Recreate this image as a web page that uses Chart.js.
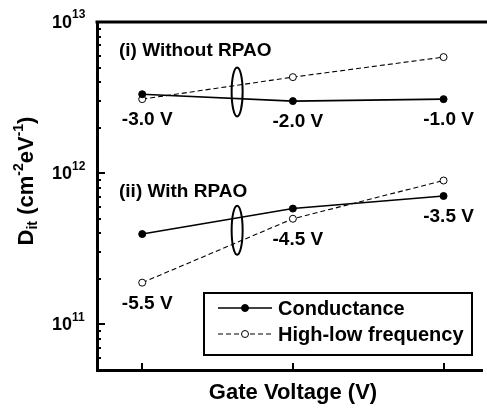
<!DOCTYPE html>
<html>
<head>
<meta charset="utf-8">
<script src="https://cdn.jsdelivr.net/npm/chart.js@4.4.0/dist/chart.umd.min.js"></script>
<style>
  body { margin: 0; background: #fff; }
  #wrap { width: 487px; height: 412px; }
</style>
</head>
<body>
<div id="wrap"><canvas id="ditChart" width="487" height="412"></canvas></div>
<script>
// gate voltage positions (category index along x)
const xPos = [1, 2, 3];

// (i) without RPAO
const condWithout = [3.33e12, 3.0e12, 3.09e12];
const hlfWithout = [3.09e12, 4.32e12, 5.86e12];
const labelsWithout = ['-3.0 V', '-2.0 V', '-1.0 V'];

// (ii) with RPAO
const condWith = [3.96e11, 5.84e11, 7.07e11];
const hlfWith = [1.89e11, 5.0e11, 8.95e11];
const labelsWith = ['-5.5 V', '-4.5 V', '-3.5 V'];

const yDecades = [11, 12, 13];

const FONT = '"Liberation Sans", Arial, sans-serif';

function pts(vals) {
    return xPos.map((x, i) => ({ x: x, y: vals[i] }));
}

const solid = {
    borderColor: '#000', backgroundColor: '#000', borderWidth: 1.6,
    pointRadius: 3.5, pointBorderWidth: 1, pointBackgroundColor: '#000', pointBorderColor: '#000'
};
const dashed = {
    borderColor: '#000', backgroundColor: '#fff', borderWidth: 1.1, borderDash: [5, 3],
    pointRadius: 3.5, pointBorderWidth: 1, pointBackgroundColor: '#fff', pointBorderColor: '#000'
};

const overlay = {
    id: 'overlay',
    afterDraw(chart) {
        const ctx = chart.ctx;
        const area = chart.chartArea;
        const xs = chart.scales.x;
        const ys = chart.scales.y;
        ctx.save();
        ctx.fillStyle = '#000';
        ctx.strokeStyle = '#000';

        // top frame line
        ctx.lineWidth = 3;
        ctx.beginPath();
        ctx.moveTo(area.left - 1.5, area.top);
        ctx.lineTo(chart.width, area.top);
        ctx.stroke();

        // y ticks, inward
        ctx.lineWidth = 2;
        for (let d = 10; d <= 13; d++) {
            for (let m = 1; m <= 9; m++) {
                const v = m * Math.pow(10, d);
                if (v < ys.min || v > ys.max) continue;
                const py = Math.round(ys.getPixelForValue(v));
                const len = m === 1 ? 8 : 4;
                ctx.beginPath();
                ctx.moveTo(area.left, py);
                ctx.lineTo(area.left + len, py);
                ctx.stroke();
            }
        }
        // x ticks, inward
        xPos.forEach(x => {
            const px = Math.round(xs.getPixelForValue(x));
            ctx.beginPath();
            ctx.moveTo(px, area.bottom);
            ctx.lineTo(px, area.bottom - 7);
            ctx.stroke();
        });

        // y tick labels 10^n
        ctx.textBaseline = 'middle';
        ctx.textAlign = 'left';
        yDecades.forEach(n => {
            const py = ys.getPixelForValue(Math.pow(10, n));
            ctx.font = 'bold 18px ' + FONT;
            ctx.fillText('10', 52, py + 1);
            const w = ctx.measureText('10').width;
            ctx.font = 'bold 12px ' + FONT;
            ctx.fillText(String(n), 52 + w, py - 7);
        });

        // axis titles
        ctx.font = 'bold 22px ' + FONT;
        ctx.textAlign = 'center';
        ctx.fillText('Gate Voltage (V)', 293, 393);

        ctx.save();
        ctx.translate(27, 181);
        ctx.rotate(-Math.PI / 2);
        const parts = [
            ['D', 22, 0], ['it', 14, 6], [' (cm', 22, 0], ['-2', 14, -8],
            ['eV', 22, 0], ['-1', 14, -8], [')', 22, 0]
        ];
        let total = 0;
        parts.forEach(p => { ctx.font = 'bold ' + p[1] + 'px ' + FONT; total += ctx.measureText(p[0]).width; });
        let cx = -total / 2;
        ctx.textAlign = 'left';
        parts.forEach(p => {
            ctx.font = 'bold ' + p[1] + 'px ' + FONT;
            ctx.fillText(p[0], cx, p[2]);
            cx += ctx.measureText(p[0]).width;
        });
        ctx.restore();

        // group titles
        ctx.font = 'bold 19px ' + FONT;
        ctx.textAlign = 'left';
        ctx.fillText('(i) Without RPAO', 119, 51);
        ctx.fillText('(ii) With RPAO', 119, 192);

        // gate voltage labels under each pair of points
        ctx.textAlign = 'center';
        const placeLabels = (labels, a, b) => {
            labels.forEach((t, i) => {
                const px = xs.getPixelForValue(xPos[i]);
                const low = Math.max(ys.getPixelForValue(a[i]), ys.getPixelForValue(b[i]));
                ctx.fillText(t, px + 5, low + 21);
            });
        };
        placeLabels(labelsWithout, condWithout, hlfWithout);
        placeLabels(labelsWith, condWith, hlfWith);

        // ellipses grouping the two methods
        const ex = 1.63;
        const lerpPix = (vals) => {
            const y0 = ys.getPixelForValue(vals[0]);
            const y1 = ys.getPixelForValue(vals[1]);
            return y0 + (y1 - y0) * (ex - xPos[0]) / (xPos[1] - xPos[0]);
        };
        ctx.lineWidth = 2;
        [[condWithout, hlfWithout], [condWith, hlfWith]].forEach(g => {
            const cy = (lerpPix(g[0]) + lerpPix(g[1])) / 2;
            ctx.beginPath();
            ctx.ellipse(xs.getPixelForValue(ex), cy, 5.5, 24.5, 0, 0, Math.PI * 2);
            ctx.stroke();
        });

        // legend box
        const lx = 204, ly = 293, lw = 268, lh = 62;
        ctx.fillStyle = '#fff';
        ctx.fillRect(lx, ly, lw, lh);
        ctx.fillStyle = '#000';
        ctx.lineWidth = 2;
        ctx.strokeRect(lx, ly, lw, lh);
        const rows = [['Conductance', solid, 308], ['High-low frequency', dashed, 334]];
        rows.forEach(r => {
            const st = r[1], y = r[2];
            ctx.lineWidth = st.borderWidth;
            ctx.setLineDash(st.borderDash || []);
            ctx.beginPath();
            ctx.moveTo(218, y);
            ctx.lineTo(272, y);
            ctx.stroke();
            ctx.setLineDash([]);
            ctx.lineWidth = 1;
            ctx.fillStyle = st.pointBackgroundColor;
            ctx.beginPath();
            ctx.arc(245, y, 3.5, 0, Math.PI * 2);
            ctx.fill();
            ctx.stroke();
            ctx.fillStyle = '#000';
            ctx.font = 'bold 20px ' + FONT;
            ctx.textAlign = 'left';
            ctx.fillText(r[0], 278, y + 1);
        });

        ctx.restore();
    }
};

new Chart(document.getElementById('ditChart'), {
    type: 'line',
    data: {
        datasets: [
            Object.assign({ label: 'Conductance', data: pts(condWithout) }, solid),
            Object.assign({ label: 'High-low frequency', data: pts(hlfWithout) }, dashed),
            Object.assign({ label: 'Conductance', data: pts(condWith) }, solid),
            Object.assign({ label: 'High-low frequency', data: pts(hlfWith) }, dashed)
        ]
    },
    options: {
        responsive: false,
        animation: false,
        layout: { padding: { left: 97, top: 22, right: 0, bottom: 42 } },
        plugins: { legend: { display: false }, tooltip: { enabled: false } },
        scales: {
            x: {
                type: 'linear', min: 0.7, max: 3.255,
                grid: { display: false, drawTicks: false },
                ticks: { display: false },
                border: { display: true, width: 3, color: '#000' }
            },
            y: {
                type: 'logarithmic', min: 5e10, max: 1e13,
                grid: { display: false, drawTicks: false },
                ticks: { display: false },
                border: { display: true, width: 3, color: '#000' }
            }
        }
    },
    plugins: [overlay]
});
</script>
</body>
</html>
